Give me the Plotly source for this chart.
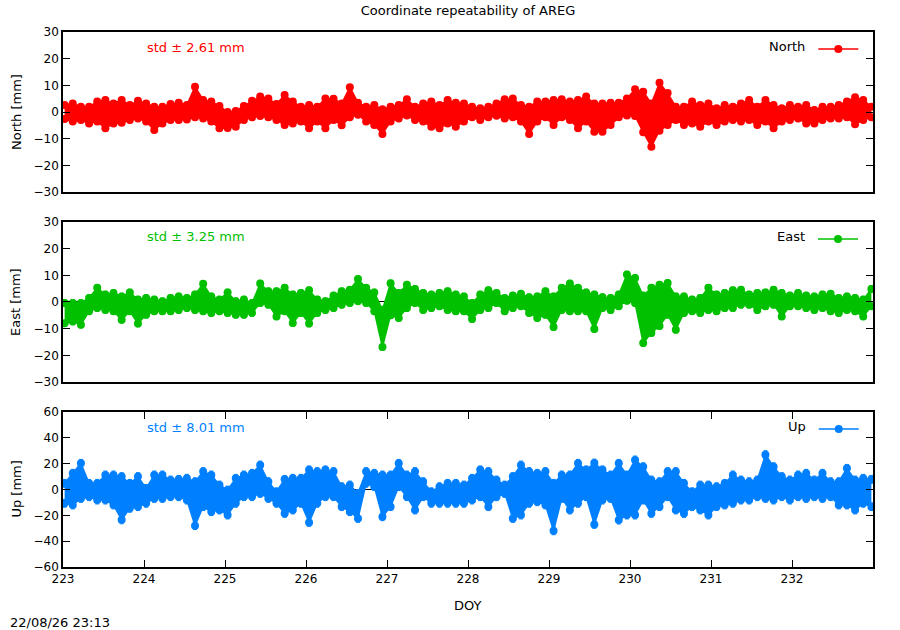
import numpy as np
import plotly.graph_objects as go
from plotly.subplots import make_subplots

# sample epochs (day of year), one per 0.1-day bin
doy = np.linspace(223.02, 232.98, 100)
doy_ticks = list(range(223, 233))

# upper / lower envelope of each 0.1-day bin, mm
north_hi = [2.6, 3.2, 2.0, 2.0, 3.9, 4.5, 3.2, 4.5, 2.6, 4.2,
            3.2, 2.0, 2.0, 3.0, 3.5, 2.6, 9.5, 4.5, 3.9, 2.3,
            0.0, 0.4, 2.3, 4.2, 5.8, 5.1, 3.0, 6.4, 3.9, 2.0,
            2.6, 2.0, 5.1, 5.0, 3.2, 9.3, 3.5, 2.0, 2.6, 1.0,
            2.0, 2.6, 4.8, 2.0, 3.2, 3.9, 2.6, 4.5, 3.5, 3.2,
            2.0, 1.4, 2.0, 3.2, 4.8, 5.1, 2.6, 2.0, 3.9, 3.9,
            4.5, 4.8, 3.9, 4.5, 5.8, 3.2, 3.2, 3.5, 3.5, 5.1,
            8.5, 7.6, 3.2, 11.0, 7.1, 2.0, 2.0, 3.9, 2.6, 3.2,
            1.4, 2.6, 2.0, 3.2, 4.5, 2.0, 4.5, 2.6, 1.4, 2.6,
            2.0, 2.6, 0.8, 2.0, 2.0, 2.6, 3.9, 5.5, 4.5, 2.0]
north_lo = [-2.6, -3.6, -3.0, -4.3, -3.6, -6.1, -4.3, -4.0, -3.0, -2.4,
            -3.6, -6.7, -4.3, -3.0, -3.0, -2.8, -2.0, -2.4, -3.6, -6.1,
            -6.0, -5.5, -3.0, -2.0, -1.5, -2.0, -3.0, -4.9, -4.3, -3.6,
            -6.1, -3.6, -6.1, -3.0, -5.0, -2.0, -1.0, -3.6, -4.9, -8.2,
            -3.6, -2.4, -1.3, -3.0, -3.6, -5.5, -6.1, -4.3, -5.5, -3.6,
            -2.0, -3.0, -2.0, -1.4, -2.4, -2.0, -3.6, -8.2, -3.6, -2.0,
            -4.9, -2.0, -3.0, -6.1, -3.6, -7.4, -7.4, -4.9, -2.0, -1.3,
            -1.5, -7.6, -13.0, -7.0, -4.9, -3.0, -4.9, -4.3, -5.5, -3.6,
            -4.9, -3.6, -3.0, -3.6, -3.0, -4.9, -3.6, -6.1, -3.6, -3.0,
            -2.4, -4.3, -4.3, -3.0, -2.4, -2.4, -2.0, -4.6, -3.0, -2.0]

east_hi = [-0.4, -0.4, -0.4, 1.5, 5.3, 2.8, 3.4, 2.1, 3.6, 0.9,
           1.5, 0.9, 0.3, 1.5, 2.1, 1.5, 2.8, 6.8, 2.1, 0.9,
           3.6, 0.3, 0.9, -0.4, 6.9, 4.0, 4.0, 5.3, 2.8, 3.4,
           4.4, 0.9, 0.3, 2.4, 4.0, 4.6, 8.6, 5.3, 3.6, -2.9,
           7.0, 3.4, 6.5, 4.9, 3.4, 2.8, 3.4, 4.0, 2.8, 2.1,
           -0.4, 2.8, 4.4, 3.4, 1.5, 2.4, 3.1, 1.8, 2.1, 4.0,
           2.1, 5.3, 6.9, 5.3, 3.6, 2.8, 1.8, 1.5, 2.8, 10.3,
           9.0, 2.4, 5.3, 6.5, 7.1, 2.1, 2.1, 0.9, 1.5, 5.3,
           2.8, 3.4, 4.4, 4.6, 2.8, 3.4, 3.6, 4.6, 3.4, 2.4,
           3.4, 2.4, 2.1, 2.8, 3.1, 1.5, 2.1, 1.5, 0.9, 4.9]
east_lo = [-8.0, -7.3, -8.5, -3.5, -2.3, -3.0, -3.5, -6.7, -3.5, -8.1,
           -4.8, -3.5, -3.5, -3.5, -3.0, -2.3, -3.0, -3.5, -4.1, -3.5,
           -4.1, -4.8, -4.8, -4.1, -0.4, -1.0, -5.4, -3.5, -7.9, -4.1,
           -8.1, -4.1, -3.0, -2.3, -1.0, -0.4, 0.3, -0.4, -3.5, -16.9,
           -5.0, -6.0, -2.3, -0.4, -3.0, -2.3, -1.6, -3.0, -3.5, -3.5,
           -6.4, -3.0, -2.3, -0.4, -3.5, -2.3, -1.6, -4.1, -6.0, -4.8,
           -9.4, -3.0, -3.5, -3.5, -3.5, -10.1, -2.3, -3.0, -1.6, 0.5,
           -0.4, -15.4, -11.6, -9.0, -4.8, -10.4, -4.1, -3.5, -4.1, -3.0,
           -3.5, -2.3, -2.3, -1.0, -1.0, -3.0, -1.6, -1.0, -5.4, -1.6,
           -1.6, -2.3, -3.0, -2.3, -3.5, -4.1, -3.0, -3.5, -5.4, -1.6]

up_hi = [4.8, 12.6, 20.3, 4.8, 4.8, 11.3, 11.3, 10.0, 4.8, 10.0,
         0.9, 11.3, 11.3, 7.4, 7.9, 8.7, 6.1, 13.9, 11.3, 3.5,
         -0.4, 8.7, 11.3, 12.6, 19.0, 6.1, -1.7, 7.9, 8.7, 8.7,
         15.2, 13.9, 15.2, 13.9, 2.2, 3.5, -3.0, 13.9, 12.6, 11.3,
         11.3, 20.3, 11.3, 13.9, 6.1, -1.7, 2.2, 4.8, 4.8, 3.5,
         8.7, 15.2, 13.9, 7.4, 3.5, 10.0, 19.0, 13.9, 12.6, 13.9,
         4.8, 11.3, 11.3, 20.3, 15.2, 20.5, 15.2, 11.3, 20.3, 11.3,
         22.9, 17.7, 7.4, 6.1, 13.9, 13.9, 4.8, -1.7, 3.5, 3.5,
         2.2, 4.8, 11.3, 7.4, 6.1, 7.4, 27.0, 17.7, 10.0, 7.4,
         11.3, 12.6, 7.4, 12.6, 6.1, 6.1, 16.4, 7.4, 8.7, 7.9]
up_lo = [-10.7, -12.0, -6.9, -5.6, -8.2, -8.2, -12.0, -23.5, -14.6, -13.3,
         -10.7, -6.9, -6.9, -5.6, -5.6, -8.2, -28.0, -13.3, -17.2, -15.9,
         -19.8, -10.7, -5.6, -5.6, -3.0, -6.9, -10.7, -18.5, -15.9, -10.7,
         -25.5, -10.7, -5.6, -5.6, -13.3, -17.2, -22.4, 4.8, 2.2, -21.1,
         -13.3, 2.2, -5.6, -15.9, -5.6, -10.7, -10.7, -10.7, -10.7, -10.7,
         -8.2, -5.6, -13.3, -5.6, -3.0, -22.4, -19.8, -10.7, -9.5, -12.0,
         -32.0, -6.9, -15.9, -10.7, -5.6, -27.0, -8.2, -6.9, -23.7, -19.8,
         -19.8, -8.2, -18.5, -13.3, -5.6, -15.9, -18.5, -13.3, -15.9, -19.8,
         -13.3, -12.0, -10.7, -8.2, -8.2, -5.6, -6.9, -8.2, -5.6, -8.2,
         -5.6, -6.9, -5.6, -6.9, -5.6, -12.0, -12.0, -15.9, -10.7, -13.3]

components = ["North", "East", "Up"]
std_mm = [2.61, 3.25, 8.01]
sigma_mm = [1.0, 1.2, 3.0]
colors = ["#ff0000", "#00c000", "#0080ff"]
highs = [north_hi, east_hi, up_hi]
lows = [north_lo, east_lo, up_lo]
y_ranges = [[-30, 30], [-30, 30], [-60, 60]]
y_dticks = [10, 10, 20]

FONT = "DejaVu Sans"
domains = [[0.7009, 1.0], [0.3458, 0.6449], [0.0, 0.2897]]

fig = make_subplots(rows=3, cols=1)

for i, name in enumerate(components):
    row = i + 1
    color = colors[i]
    err = dict(type="constant", value=sigma_mm[i], color=color, thickness=1, width=2)
    legend_id = "legend" if row == 1 else f"legend{row}"

    # lower edge of the scatter band
    fig.add_trace(
        go.Scatter(
            x=doy, y=lows[i], mode="lines+markers", name="",
            legend=legend_id, showlegend=True,
            line=dict(color=color, width=1.5),
            marker=dict(color=color, size=8),
            error_y=err,
        ),
        row=row, col=1,
    )
    # upper edge, filled down to the lower edge
    fig.add_trace(
        go.Scatter(
            x=doy, y=highs[i], mode="lines+markers", name=name,
            showlegend=False, fill="tonexty", fillcolor=color,
            line=dict(color=color, width=1.5),
            marker=dict(color=color, size=8),
            error_y=err,
        ),
        row=row, col=1,
    )

    top = domains[i][1]
    leg_y = top - 15 / 535
    fig.update_layout({
        legend_id: dict(
            x=0.995, xanchor="right", y=leg_y - 2 / 535, yanchor="middle",
            bgcolor="rgba(0,0,0,0)", itemwidth=40,
            font=dict(family=FONT, size=13, color="black"),
            title=dict(text=name, side="left",
                       font=dict(family=FONT, size=13, color="black")),
        )
    })

    fig.add_annotation(
        text=f"std \u00b1 {std_mm[i]:.2f} mm", xref="paper", yref="paper",
        x=0.101, y=leg_y, xanchor="left", yanchor="middle", showarrow=False,
        font=dict(family=FONT, size=13, color=color),
    )
    fig.add_annotation(
        text=f"{name} [mm]", xref="paper", yref="paper", textangle=-90,
        x=-0.058, y=(domains[i][0] + domains[i][1]) / 2,
        xanchor="center", yanchor="middle", showarrow=False,
        font=dict(family=FONT, size=13, color="black"),
    )

axis_common = dict(
    showline=True, linecolor="black", linewidth=1.5,
    showgrid=False, tickfont=dict(family=FONT, size=12, color="black"),
)

for i in range(3):
    row = i + 1
    fig.update_yaxes(
        range=y_ranges[i], dtick=y_dticks[i], domain=domains[i],
        ticks="inside", ticklen=7, tickcolor="black", mirror="ticks",
        zeroline=True, zerolinecolor="black", zerolinewidth=1,
        row=row, col=1, **axis_common,
    )
    fig.update_xaxes(
        range=[223, 233], tickvals=doy_ticks,
        ticks="inside" if row == 3 else "", ticklen=7, tickcolor="black",
        showticklabels=(row == 3), mirror="ticks" if row == 3 else True,
        zeroline=False, row=row, col=1, **axis_common,
    )

fig.add_annotation(
    text="DOY", xref="paper", yref="paper", x=0.5, y=-38 / 535,
    xanchor="center", yanchor="middle", showarrow=False,
    font=dict(family=FONT, size=13, color="black"),
)
fig.add_annotation(
    text="22/08/26 23:13", xref="paper", yref="paper", x=-55 / 810, y=-55 / 535,
    xanchor="left", yanchor="middle", showarrow=False,
    font=dict(family=FONT, size=13, color="black"),
)

fig.update_layout(
    width=900, height=630,
    margin=dict(l=63, r=27, t=32, b=63),
    paper_bgcolor="white", plot_bgcolor="white",
    title=dict(text="Coordinate repeatability of AREG", x=0.52, xanchor="center",
               y=1 - 10 / 630, yanchor="middle", yref="container",
               font=dict(family=FONT, size=13, color="black")),
    font=dict(family=FONT, size=13, color="black"),
)

# page body has a default 8px margin; drop it so the figure sits at the origin
fig.write_html(
    "out.html",
    config={"displayModeBar": False},
    post_script="document.body.style.margin = '0px';",
)
